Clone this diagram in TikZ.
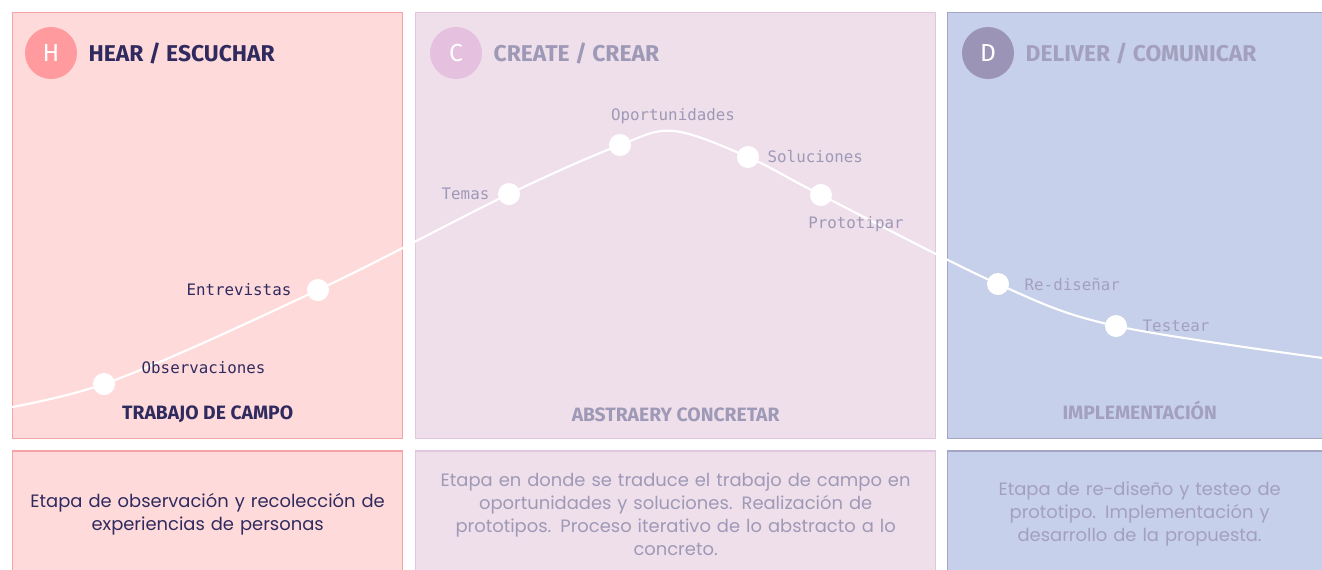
\documentclass[tikz,border=0pt]{standalone}
\usepackage{fontspec}
\setmainfont{Poppins}
\newfontfamily\headfont{Fira Sans}
\newfontfamily\labelfont{DejaVu Sans Mono}
\usetikzlibrary{positioning}

\definecolor{hearfill}{HTML}{FFDADA}
\definecolor{heardraw}{HTML}{F7A3A6}
\definecolor{hearball}{HTML}{FF9A9E}
\definecolor{hearink}{HTML}{2F2B5F}
\definecolor{createfill}{HTML}{EFDFEB}
\definecolor{createdraw}{HTML}{E2C6E0}
\definecolor{createball}{HTML}{E5C1DF}
\definecolor{createink}{HTML}{9E99B6}
\definecolor{deliverfill}{HTML}{C7D0EB}
\definecolor{deliverdraw}{HTML}{A6A4C4}
\definecolor{deliverball}{HTML}{9C94B6}
\definecolor{deliverink}{HTML}{A3A0BE}

\tikzstyle{panel} = [rectangle, draw, line width=0.8pt, inner sep=0pt,
    minimum height=8.52cm, anchor=north west]
\tikzstyle{info} = [rectangle, draw, line width=0.8pt, inner sep=0pt,
    minimum height=2.52cm, align=center, font=\fontsize{10.2}{13}\selectfont]
\tikzstyle{ball} = [circle, minimum size=1.04cm, inner sep=0pt, text=white,
    font=\headfont\fontsize{14}{14}\selectfont]
\tikzstyle{head} = [inner sep=0pt, font=\headfont\bfseries\fontsize{13}{13}\selectfont]
\tikzstyle{stage} = [inner sep=0pt, font=\headfont\bfseries\fontsize{11}{12}\selectfont]
\tikzstyle{dot} = [circle, fill=white, minimum size=0.44cm, inner sep=0pt]
\tikzstyle{step label} = [inner sep=0pt, font=\labelfont\fontsize{9}{11}\selectfont]
\tikzstyle{curve} = [draw=white, line width=1.2pt]

\begin{document}
\begin{tikzpicture}[x=0.02cm, y=-0.02cm]
  \clip (0,0) rectangle (1322,569);
  % Place panels
  % Hear
  \node[panel, fill=hearfill, draw=heardraw, minimum width=7.8cm] (hear) at (12,12) {};
  \node[info, fill=hearfill, draw=heardraw, text width=7.8cm, text=hearink,
        below=0.22cm of hear] (hearinfo)
        {Etapa de observación y recolección de\\ experiencias de personas};
  % Create
  \node[panel, fill=createfill, draw=createdraw, minimum width=10.4cm] (create) at (415,12) {};
  \node[info, fill=createfill, draw=createdraw, text width=10.4cm, text=createink,
        below=0.22cm of create] (createinfo)
        {Etapa en donde se traduce el trabajo de campo en\\ oportunidades y soluciones. Realización de\\ prototipos. Proceso iterativo de lo abstracto a lo\\ concreto.};
  % Deliver
  \node[panel, fill=deliverfill, draw=deliverdraw, minimum width=7.68cm] (deliver) at (947,12) {};
  \node[info, fill=deliverfill, draw=deliverdraw, text width=7.68cm, text=deliverink,
        below=0.22cm of deliver] (deliverinfo)
        {Etapa de re-diseño y testeo de\\ prototipo. Implementación y\\ desarrollo de la propuesta.};

  % Headings
  \node[ball, fill=hearball] (hball) at (51,53) {H};
  \node[head, text=hearink, right=0.22cm of hball] (htitle) {HEAR / ESCUCHAR};
  \node[ball, fill=createball] (cball) at (456,53) {C};
  \node[head, text=createink, right=0.22cm of cball] (ctitle) {CREATE / CREAR};
  \node[ball, fill=deliverball] (dball) at (988,53) {D};
  \node[head, text=deliverink, right=0.22cm of dball] (dtitle) {DELIVER / COMUNICAR};

  \node[stage, text=hearink] (htag) at ([yshift=0.5cm]hear.south) {TRABAJO DE CAMPO};
  \node[stage, text=createink] (ctag) at ([yshift=0.5cm]create.south) {ABSTRAERY CONCRETAR};
  \node[stage, text=deliverink, anchor=base] (dtag) at ([yshift=0.39cm]deliver.south) {IMPLEMENTACIÓN};

  % Curve
  \coordinate (cstart) at (-40,416);
  \coordinate (ctop) at (674,131);
  \coordinate (cend) at (1345,361);
  \path (104,384) coordinate (pobs) (318,290) coordinate (pentr)
        (509,194) coordinate (ptemas) (620,145) coordinate (popo)
        (748,157) coordinate (psol) (821,195) coordinate (pproto)
        (998,284) coordinate (predo) (1116,326) coordinate (ptest);
  \draw[curve] plot[smooth, tension=0.55] coordinates {(cstart) (pobs) (pentr) (ptemas)
        (popo) (ctop) (psol) (pproto) (predo) (ptest) (cend)};

  % Place steps
  \node[dot] (obs) at (pobs) {};
  \node[dot] (entr) at (pentr) {};
  \node[dot] (temas) at (ptemas) {};
  \node[dot] (opo) at (popo) {};
  \node[dot] (sol) at (psol) {};
  \node[dot] (proto) at (pproto) {};
  \node[dot] (redo) at (predo) {};
  \node[dot] (test) at (ptest) {};

  \node[step label, text=hearink, right=0.52cm of obs, yshift=0.32cm] (lobs) {Observaciones};
  \node[step label, text=hearink, left=0.3cm of entr] (lentr) {Entrevistas};
  \node[step label, text=createink, left=0.16cm of temas] (ltemas) {Temas};
  \node[step label, text=createink, above=0.2cm of opo, xshift=1.06cm] (lopo) {Oportunidades};
  \node[step label, text=createink, right=0.16cm of sol] (lsol) {Soluciones};
  \node[step label, text=createink, below=0.2cm of proto, xshift=0.7cm] (lproto) {Prototipar};
  \node[step label, text=deliverink, right=0.3cm of redo] (lredo) {Re-diseñar};
  \node[step label, text=deliverink, right=0.3cm of test] (ltest) {Testear};
\end{tikzpicture}
\end{document}
